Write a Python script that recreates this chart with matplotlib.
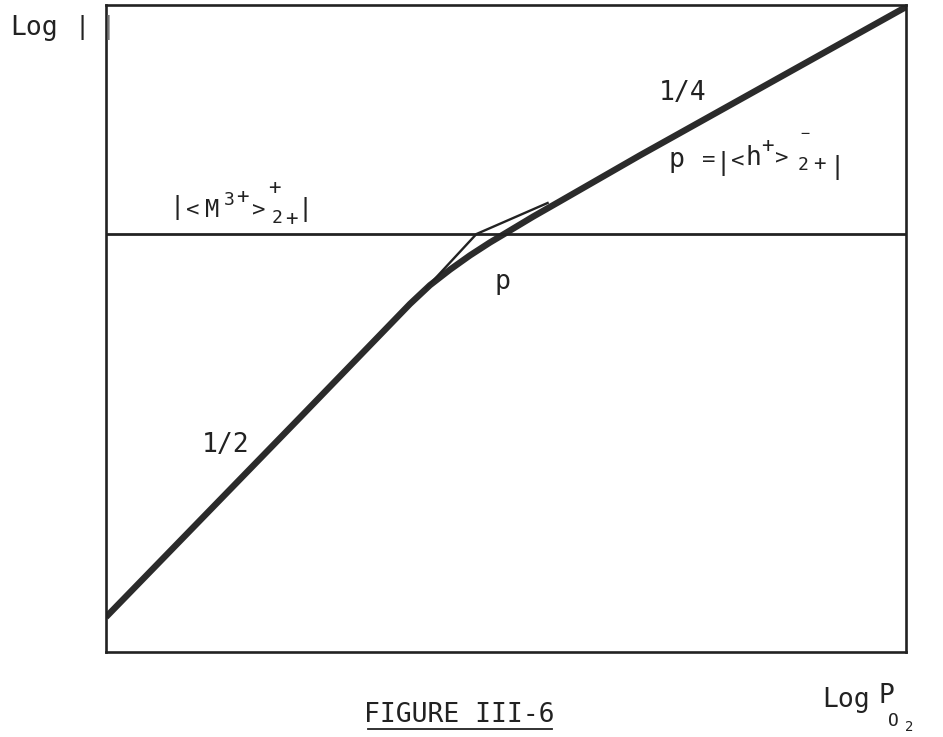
import matplotlib
matplotlib.use('Agg')
import matplotlib.pyplot as plt

# log Po2 / log concentration, arbitrary units
curve_x = [0.0, 2.43, 3.80, 4.05, 4.30, 4.55, 4.80, 4.99, 5.34, 5.68, 6.68, 10.0]
curve_y = [0.54, 3.63, 5.38, 5.67, 5.91, 6.13, 6.33, 6.47, 6.73, 6.97, 7.68, 9.97]

# thin asymptotes (slope 1/2 then 1/4) meeting on the M3+ level
asym_x = [4.00, 4.63, 5.52]
asym_y = [5.62, 6.46, 6.94]

m3_level = 6.46

W, H = 943, 737
FONT = 'DejaVu Sans Mono'
INK = '#222222'

fig = plt.figure(figsize=(W / 100, H / 100), dpi=100)
ax = fig.add_axes([106 / W, (H - 652) / H, 800 / W, 647 / H])

ax.plot(curve_x, curve_y, color='#2b2b2b', lw=4.6, solid_joinstyle='round',
        solid_capstyle='butt')
ax.plot(asym_x, asym_y, color=INK, lw=1.7, solid_joinstyle='miter')
ax.axhline(m3_level, color=INK, lw=2.0)

ax.set_xlim(0, 10)
ax.set_ylim(0, 10)
ax.set_xticks([])
ax.set_yticks([])
for s in ax.spines.values():
    s.set_linewidth(1.9)
    s.set_color(INK)


def put(s, px, py, size=19, ha='center', va='center', color=INK):
    fig.text(px / W, 1 - py / H, s, ha=ha, va=va, fontsize=size,
             family=FONT, color=color)


# axis labels
put('Log', 10, 35, ha='left', va='baseline')
put('|', 82, 28, size=18)
put('|', 108, 28, size=18, color='#777777')
put('Log', 822, 707, ha='left', va='baseline')
put('P', 886, 696)
put('O', 893, 721, size=13)
put('2', 909, 727, size=10)

# slopes
put('1/4', 683, 100, va='baseline')
put('1/2', 226, 452, va='baseline')
put('p', 502, 282)

# |<M3+>2+|
put('|', 177, 208, size=18)
put('<', 193, 210, size=16)
put('M', 212, 210, size=17)
put('3', 229, 200, size=13)
put('+', 242, 197, size=15)
put('>', 259, 210, size=16)
put('+', 274, 188, size=15)
put('2', 277, 218, size=13)
put('+', 291, 219, size=15)
put('|', 305, 210, size=18)

# p = |<h+>2+|
put('p', 676, 160, size=19)
put('=', 709, 160, size=16)
put('|', 723, 164, size=18)
put('<', 738, 161, size=16)
put('h', 753, 158, size=19)
put('+', 767, 146, size=15)
put('>', 782, 158, size=16)
put('\u2212', 805, 133, size=11)
put('2', 803, 165, size=13)
put('+', 819, 164, size=15)
put('|', 837, 167, size=18)

# caption
put('FIGURE III-6', 459, 722, va='baseline')
fig.add_artist(plt.Line2D([368 / W, 552 / W], [1 - 729 / H, 1 - 729 / H],
                          color=INK, lw=1.3))

fig.savefig('out.png', dpi=100, facecolor='white')
